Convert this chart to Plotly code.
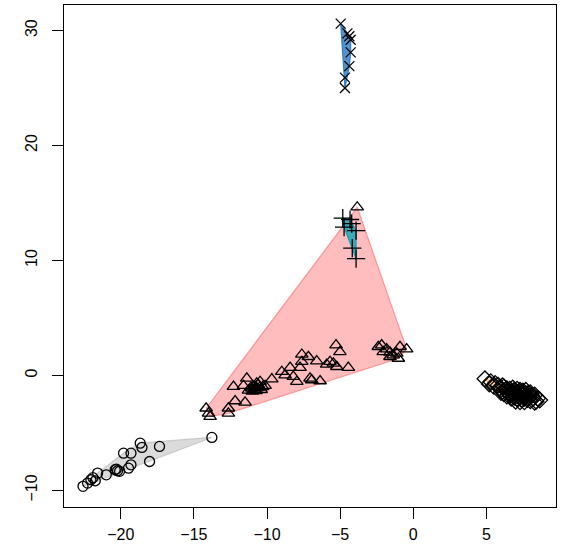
import plotly.graph_objects as go

# ---- data ----
circ_x = [-22.58, -22.27, -22.04, -21.74, -21.58, -20.99, -20.38, -20.22, -20.08, -19.47,
          -19.30, -19.81, -19.30, -18.67, -18.55, -18.03, -17.35, -13.77, -21.9, -20.3]
circ_y = [-9.65, -9.37, -9.08, -9.17, -8.50, -8.65, -8.21, -8.30, -8.35, -8.07,
          -7.78, -6.77, -6.77, -5.90, -6.27, -7.49, -6.18, -5.40, -8.9, -8.15]

tri_x = [-14.16, -14.00, -13.89, -12.64, -12.64, -12.18, -11.50, -12.29, -11.61, -11.38,
         -11.04, -10.70, -10.47, -10.13, -9.67, -11.27, -11.00, -10.85, -10.70, -10.50,
         -10.40, -10.60, -10.90, -11.10, -10.75, -10.30, -8.99, -8.76, -8.42, -8.20,
         -7.96, -7.74, -7.62, -7.62, -7.17, -7.06, -6.94, -6.37, -6.60, -5.92,
         -5.69, -5.46, -5.23, -5.28, -5.01, -4.44, -2.39, -2.16, -2.05, -1.82,
         -1.59, -1.37, -1.59, -1.13, -0.91, -0.45, -1.02, -3.83]
tri_y = [-2.86, -3.30, -3.58, -2.86, -3.30, -2.23, -2.34, -0.98, -0.90, -0.26,
         -1.13, -0.69, -0.55, -0.90, -0.32, -1.30, -1.40, -1.25, -1.10, -1.05,
         -1.25, -0.80, -0.95, -1.05, -1.35, -1.00, 0.32, 0.03, 0.67, -0.11,
         -0.55, 0.67, 1.19, 1.82, 1.62, -0.26, -0.40, -0.49, 1.24, 0.95,
         1.19, 1.04, 0.75, 2.63, 2.05, 0.67, 2.49, 2.63, 2.05, 2.28,
         2.00, 1.76, 1.62, 1.91, 2.49, 2.28, 1.47, 14.63]

plus_x = [-4.82, -4.32, -4.73, -4.21, -3.91, -4.17, -3.91]
plus_y = [13.68, 13.56, 12.90, 13.20, 12.60, 11.07, 10.15]

xm_x = [-4.96, -4.50, -4.37, -4.28, -4.28, -4.37, -4.67, -4.67]
xm_y = [30.60, 29.75, 29.50, 29.20, 28.10, 26.90, 25.90, 25.00]

dia_x = [4.90, 5.30, 5.20, 5.60, 5.50, 5.80, 5.90, 6.10, 6.00, 6.20,
         6.30, 6.40, 6.50, 6.60, 6.60, 6.70, 6.80, 6.80, 6.90, 6.90,
         7.00, 7.00, 7.10, 7.10, 7.20, 7.20, 7.30, 7.30, 7.40, 7.40,
         7.50, 7.50, 7.60, 7.60, 7.70, 7.70, 7.80, 7.80, 7.90, 8.00,
         8.00, 8.10, 8.20, 8.30, 8.40, 8.50, 8.65, 8.30, 6.40, 6.70,
         7.00, 7.30, 7.60, 6.20, 6.00]
dia_y = [-0.30, -0.55, -0.75, -0.70, -0.95, -0.85, -1.10, -0.90, -1.25, -1.00,
         -1.30, -1.15, -1.50, -1.20, -1.70, -1.40, -1.10, -1.60, -1.90, -1.30,
         -1.50, -1.75, -1.20, -2.00, -1.45, -1.70, -1.30, -1.90, -1.55, -2.10,
         -1.75, -1.35, -2.00, -1.60, -1.85, -1.30, -2.10, -1.60, -1.90, -1.50,
         -2.20, -1.75, -2.00, -1.70, -2.25, -2.00, -2.15, -2.35, -1.80, -2.00,
         -2.25, -2.30, -2.30, -1.60, -1.50]

x_ticks = [-20, -15, -10, -5, 0, 5]
y_ticks = [-10, 0, 10, 20, 30]


def hull(xs, ys):
    pts = sorted(set(zip(xs, ys)))
    if len(pts) < 3:
        return pts

    def cross(o, a, b):
        return (a[0] - o[0]) * (b[1] - o[1]) - (a[1] - o[1]) * (b[0] - o[0])
    lower, upper = [], []
    for p in pts:
        while len(lower) >= 2 and cross(lower[-2], lower[-1], p) <= 0:
            lower.pop()
        lower.append(p)
    for p in reversed(pts):
        while len(upper) >= 2 and cross(upper[-2], upper[-1], p) <= 0:
            upper.pop()
        upper.append(p)
    h = lower[:-1] + upper[:-1]
    return h + [h[0]]


groups = [
    (circ_x, circ_y, "circle-open", 10, "rgba(190,190,190,0.55)", "rgba(190,190,190,0.8)"),
    (tri_x, tri_y, "triangle-up-open", 11, "rgba(255,0,0,0.26)", "rgba(255,60,60,0.45)"),
    (plus_x, plus_y, "cross-thin-open", 13, "rgba(0,160,180,0.75)", "rgba(0,160,180,0.9)"),
    (xm_x, xm_y, "x-thin-open", 10, "rgba(40,120,190,0.8)", "rgba(40,120,190,0.9)"),
    (dia_x, dia_y, "diamond-open", 12, "rgba(253,170,90,0.6)", "rgba(253,170,90,0.8)"),
]

fig = go.Figure()
for xs, ys, sym, sz, fc, lc in groups:
    h = hull(xs, ys)
    fig.add_trace(go.Scatter(x=[p[0] for p in h], y=[p[1] for p in h], mode="lines",
                             fill="toself", fillcolor=fc, line=dict(color=lc, width=1.2),
                             hoverinfo="skip", showlegend=False))
for xs, ys, sym, sz, fc, lc in groups:
    fig.add_trace(go.Scatter(x=xs, y=ys, mode="markers", showlegend=False,
                             marker=dict(symbol=sym, size=sz, color="black",
                                         line=dict(color="black", width=1.3))))

font = dict(family="Liberation Sans, Arial, Helvetica", size=16, color="black")
fig.update_layout(
    width=564, height=556,
    margin=dict(l=64, r=8, t=5, b=49),
    plot_bgcolor="white", paper_bgcolor="white",
    font=font,
    showlegend=False,
)
fig.update_xaxes(range=[-23.88, 9.76], tickvals=x_ticks, ticktext=["\u2212" + str(-v) if v < 0 else str(v) for v in x_ticks],
                 ticks="outside", ticklen=11, tickwidth=1, tickcolor="black",
                 showgrid=False, zeroline=False, showline=True, linecolor="black", linewidth=1,
                 mirror=True, tickfont=font, ticklabelstandoff=2, automargin=False)
fig.update_yaxes(range=[-11.45, 32.22], tickvals=y_ticks, ticktext=["\u2212" + str(-v) if v < 0 else str(v) for v in y_ticks],
                 ticks="outside", ticklen=11, tickwidth=1, tickcolor="black", tickangle=-90,
                 showgrid=False, zeroline=False, showline=True, linecolor="black", linewidth=1,
                 mirror=True, tickfont=font, ticklabelstandoff=9, automargin=False)

fig.write_html("out.html", config={"displayModeBar": False},
               post_script="document.body.style.margin='0';document.body.style.padding='0';")
